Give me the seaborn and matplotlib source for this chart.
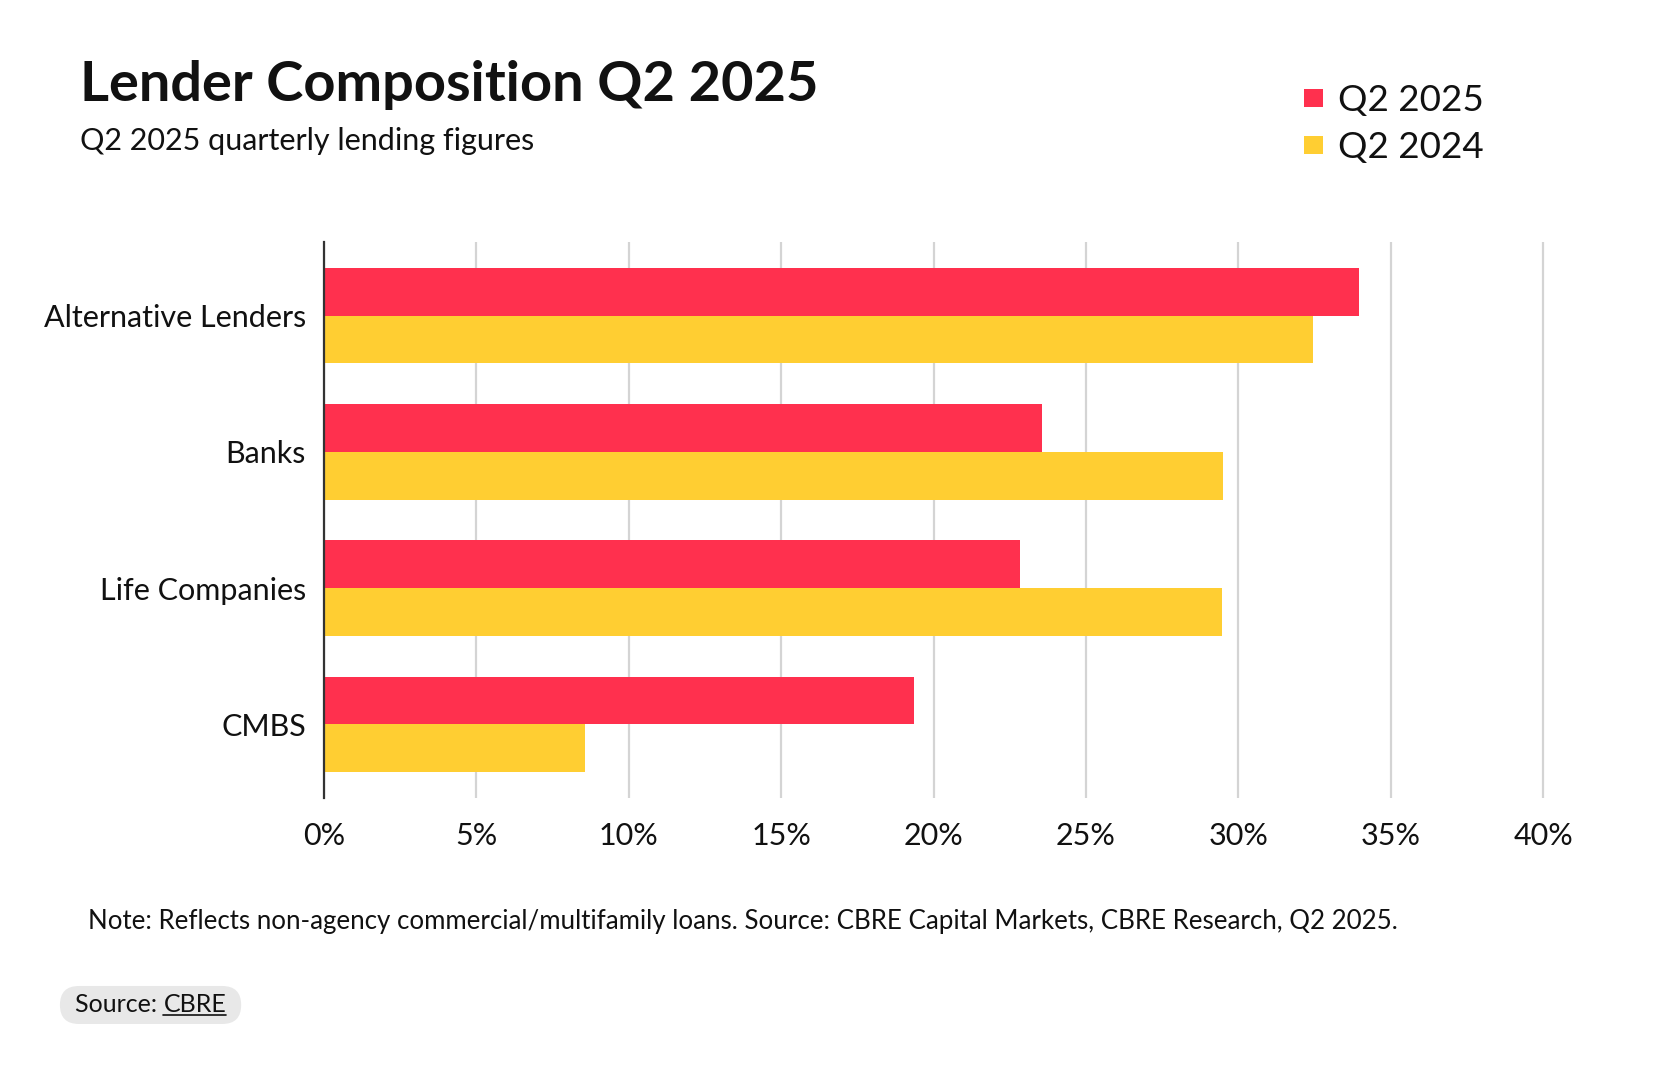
import pandas as pd
import numpy as np
import matplotlib
matplotlib.use("Agg")
import matplotlib.pyplot as plt
import seaborn as sns
from matplotlib.patches import Patch, FancyBboxPatch
from matplotlib.lines import Line2D
from matplotlib.ticker import FuncFormatter

# -------------------------------
# Data
# -------------------------------
lenders = ['Alternative Lenders', 'Banks', 'Life Companies', 'CMBS']
q2_2025 = [33.95, 23.55, 22.85, 19.35]
q2_2024 = [32.45, 29.5, 29.45, 8.55]
series = ['Q2 2025', 'Q2 2024']
colors = ['#FF304E', '#FFCE32']
xticks = [0, 5, 10, 15, 20, 25, 30, 35, 40]

df = pd.DataFrame({
    'Lender': lenders * 2,
    'Period': [series[0]] * len(lenders) + [series[1]] * len(lenders),
    'Share': q2_2025 + q2_2024,
})

# -------------------------------
# Style
# -------------------------------
sns.set_style('white')
plt.rcParams['font.family'] = ['Lato', 'DejaVu Sans']
text_col = '#111111'

fig = plt.figure(figsize=(16.8, 10.68), dpi=100)
ax = fig.add_axes([0.1929, 0.2528, 0.7283, 0.5206])

sns.barplot(data=df, y='Lender', x='Share', hue='Period', order=lenders,
            hue_order=series, palette=colors, orient='h', width=0.7,
            linewidth=0, saturation=1, legend=False, ax=ax)

ax.set_xlim(0, 40.15)
ax.set_ylim(len(lenders) - 0.46, -0.54)
ax.set_xticks(xticks)
ax.xaxis.set_major_formatter(FuncFormatter(lambda v, p: f'{v:.0f}%'))
ax.grid(axis='x', color='#d4d4d4', linewidth=1.6)
ax.grid(axis='y', visible=False)
ax.set_axisbelow(True)
for s in ['top', 'right', 'bottom']:
    ax.spines[s].set_visible(False)
ax.spines['left'].set_color('#333333')
ax.spines['left'].set_linewidth(1.6)
ax.tick_params(axis='both', length=0, labelsize=22, colors=text_col)
ax.tick_params(axis='y', pad=13)
ax.tick_params(axis='x', pad=17)
ax.set_xlabel('')
ax.set_ylabel('')

# -------------------------------
# Titles, legend, notes
# -------------------------------
fig.text(0.0476, 0.920, 'Lender Composition Q2 2025', fontsize=40.3,
         fontweight='bold', color=text_col, va='center', ha='left')
fig.text(0.0476, 0.868, 'Q2 2025 quarterly lending figures', fontsize=22,
         color=text_col, va='center', ha='left')

handles = [Patch(facecolor=c, edgecolor='none', label=l) for c, l in zip(colors, series)]
fig.legend(handles=handles, loc='upper left', bbox_to_anchor=(0.776, 0.921),
           frameon=False, fontsize=26.5, handlelength=0.52, handleheight=0.36,
           handletextpad=0.42, labelspacing=0.38, borderpad=0, borderaxespad=0,
           labelcolor=text_col)

fig.text(0.0524, 0.137,
         'Note: Reflects non-agency commercial/multifamily loans. Source: CBRE Capital Markets, CBRE Research, Q2 2025.',
         fontsize=18.6, color=text_col, va='center', ha='left')

# source badge with underlined link text
src = fig.text(0.0446, 0.059, 'Source: ', fontsize=18, color=text_col,
               va='center', ha='left')
fig.canvas.draw()
r = fig.canvas.get_renderer()
bb = src.get_window_extent(r)
cb = fig.text(bb.x1 / fig.bbox.width, 0.059, 'CBRE', fontsize=18, color=text_col,
              va='center', ha='left')
fig.canvas.draw()
cbb = cb.get_window_extent(r)
yc = (bb.y0 + bb.y1) / 2
badge = FancyBboxPatch((bb.x0 - 15, yc - 19), (cbb.x1 - bb.x0) + 30, 38,
                       boxstyle='round,pad=0,rounding_size=19', transform=None,
                       facecolor='#e8e8e8', edgecolor='none', zorder=0)
fig.patches.append(badge)
fig.add_artist(Line2D([cbb.x0, cbb.x1], [cbb.y0 + 1, cbb.y0 + 1], transform=None,
                      color=text_col, linewidth=1.2))

fig.savefig('out.png', dpi=100)
